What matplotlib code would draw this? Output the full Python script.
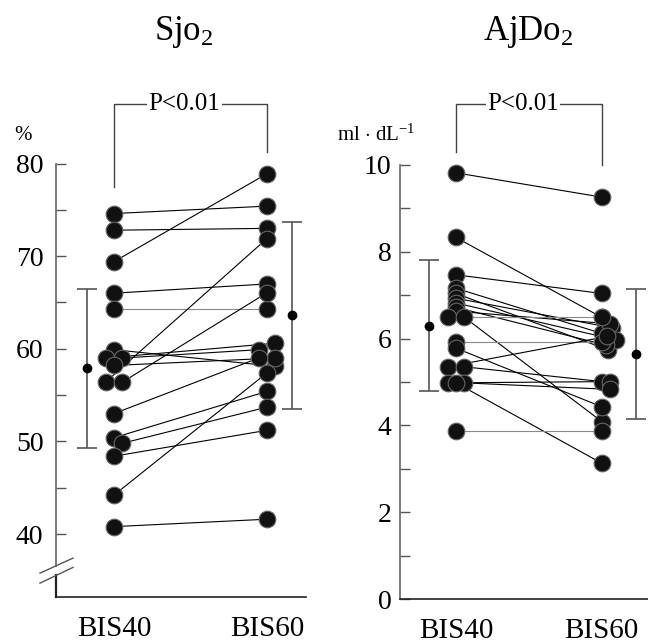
import matplotlib
matplotlib.use("Agg")
import matplotlib.pyplot as plt

###########
# Styling #
###########

plt.rcParams['font.family'] = ['Liberation Serif', 'DejaVu Serif']
plt.rcParams['mathtext.fontset'] = 'custom'
plt.rcParams['mathtext.rm'] = 'Liberation Serif'
plt.rcParams['mathtext.it'] = 'Liberation Serif:italic'

########
# Data #
########

groups = ["BIS40", "BIS60"]

# SjO2 (%), paired per patient
sjo2_bis40 = [74.6, 72.8, 69.4, 66.0, 64.3, 59.9, 59.0, 59.0, 58.2,
              56.4, 56.4, 53.0, 50.4, 49.8, 48.4, 44.2, 40.8]
sjo2_bis60 = [75.4, 73.0, 78.9, 67.0, 64.3, 58.1, 60.6, 59.9, 59.0,
              71.9, 66.05, 59.0, 55.4, 53.7, 51.2, 57.4, 41.6]
sjo2_mean = [57.9, 63.6]
sjo2_sd = [8.6, 10.1]

# AjDO2 (ml/dL), paired per patient
ajdo2_bis40 = [9.82, 8.33, 7.47, 7.16, 7.04, 6.93, 6.82, 6.72, 6.63, 6.49,
               6.49, 5.93, 5.78, 5.35, 5.35, 4.98, 4.98, 4.98, 3.88]
ajdo2_bis60 = [9.26, 6.49, 7.04, 6.12, 5.74, 6.25, 5.97, 5.85, 6.34, 6.49,
               4.09, 5.93, 4.43, 6.05, 5.01, 5.01, 4.83, 3.13, 3.88]
ajdo2_mean = [6.3, 5.65]
ajdo2_sd = [1.5, 1.5]

# Horizontal shifts so overlapping dots stay visible
sjo2_shift40 = [0, 0, 0, 0, 0, 0, -0.055, 0.055, 0, -0.055, 0.055, 0, 0, 0.055, 0, 0, 0]
sjo2_shift60 = [0, 0, 0, 0, 0, 0.055, 0.055, -0.055, 0.055, 0, 0, -0.055, 0, 0, 0, 0, 0]
ajdo2_shift40 = [0, 0, 0, 0, 0, 0, 0, 0, 0, -0.058, 0.058, 0, 0, -0.058, 0.058,
                 -0.058, 0.058, 0, 0]
ajdo2_shift60 = [0, 0, 0, 0, 0.045, 0.07, 0.1, 0.03, 0.06, 0, 0, 0, 0, 0.04, 0,
                 0.06, 0.06, 0, 0]


def draw_pairs(ax, before, after, sh0, sh1):
    for a, b, s0, s1 in zip(before, after, sh0, sh1):
        col = '#8a8a8a' if a == b else 'black'
        ax.plot([1 + s0, 2 + s1], [a, b], color=col, lw=0.8, zorder=1, clip_on=False)
    ax.plot([1 + s for s in sh0], before, 'o', ms=12, mfc='#111111', mec='#666666',
            mew=0.8, zorder=3, clip_on=False)
    ax.plot([2 + s for s in sh1], after, 'o', ms=12, mfc='#111111', mec='#666666',
            mew=0.8, zorder=3, clip_on=False)


def draw_bracket(ax, y_top, y_left, y_right):
    ax.plot([1, 1, 2, 2], [y_left, y_top, y_top, y_right], color='#444444', lw=1,
            clip_on=False, zorder=1)
    ax.text(1.46, y_top, "P<0.01", ha='center', va='center', fontsize=18,
            bbox=dict(facecolor='white', edgecolor='none', pad=1), zorder=2)


fig = plt.figure(figsize=(6.48, 6.43), dpi=100)

##############
# SjO2 panel #
##############

ax1 = fig.add_axes([0.0864, 0.0715, 0.3858, 0.6742])
ax1.set_xlim(0.621, 2.255)
ax1.set_ylim(33.2, 80)
draw_pairs(ax1, sjo2_bis40, sjo2_bis60, sjo2_shift40, sjo2_shift60)
ax1.errorbar([0.824, 2.163], sjo2_mean, yerr=sjo2_sd, fmt='o', ms=6, color='black',
             ecolor='#555555', elinewidth=1.2, capsize=7, capthick=1.2, zorder=2)
draw_bracket(ax1, 86.4, 77.5, 81.2)

for s in ['top', 'right', 'left']:
    ax1.spines[s].set_visible(False)
ax1.spines['bottom'].set_color('#222222')
ax1.spines['bottom'].set_linewidth(1.2)

# broken y axis
tr = ax1.get_yaxis_transform()
ax1.plot([0, 0], [80, 36.6], color='#666666', lw=1.2, transform=tr, clip_on=False)
ax1.plot([0, 0], [35.55, 33.2], color='#222222', lw=1.6, transform=tr, clip_on=False)
ax1.plot([-0.064, 0.068], [35.78, 37.4], color='#555555', lw=1, transform=tr, clip_on=False)
ax1.plot([-0.064, 0.068], [34.7, 36.4], color='#555555', lw=1, transform=tr, clip_on=False)

sjo2_ticks = [40, 45, 50, 55, 60, 65, 70, 75, 80]
ax1.set_yticks(sjo2_ticks)
ax1.set_yticklabels([str(t) if t % 10 == 0 else '' for t in sjo2_ticks], fontsize=20)
ax1.tick_params(axis='y', direction='in', length=7, width=1, color='#555555', pad=9)

###############
# AjDO2 panel #
###############

ax2 = fig.add_axes([0.6173, 0.0684, 0.3827, 0.675])
ax2.set_xlim(0.616, 2.318)
ax2.set_ylim(0, 10)
draw_pairs(ax2, ajdo2_bis40, ajdo2_bis60, ajdo2_shift40, ajdo2_shift60)
ax2.errorbar([0.817, 2.233], ajdo2_mean, yerr=ajdo2_sd, fmt='o', ms=6, color='black',
             ecolor='#555555', elinewidth=1.2, capsize=7, capthick=1.2, zorder=2)
draw_bracket(ax2, 11.4, 10.31, 10.0)

for s in ['top', 'right']:
    ax2.spines[s].set_visible(False)
ax2.spines['left'].set_color('#666666')
ax2.spines['left'].set_linewidth(1.2)
ax2.spines['bottom'].set_color('#222222')
ax2.spines['bottom'].set_linewidth(1.2)

ajdo2_ticks = list(range(0, 11))
ax2.set_yticks(ajdo2_ticks)
ax2.set_yticklabels([str(t) if t % 2 == 0 else '' for t in ajdo2_ticks], fontsize=20)
ax2.tick_params(axis='y', direction='in', length=7, width=1, color='#555555', pad=6)

for ax in (ax1, ax2):
    ax.set_xticks([1, 2])
    ax.set_xticklabels(groups, fontsize=21)
    ax.tick_params(axis='x', length=0, pad=14)

##########
# Labels #
##########

fig.text(0.283, 0.938, "Sjo$_2$", ha='center', va='baseline', fontsize=25)
fig.text(0.815, 0.938, "AjDo$_2$", ha='center', va='baseline', fontsize=25)
fig.text(0.0355, 0.790, "%", ha='center', va='center', fontsize=15)
fig.text(0.52, 0.790, r"ml $\cdot$ dL$^{-1}$", ha='left', va='center', fontsize=15)

fig.savefig("out.png", dpi=100)
